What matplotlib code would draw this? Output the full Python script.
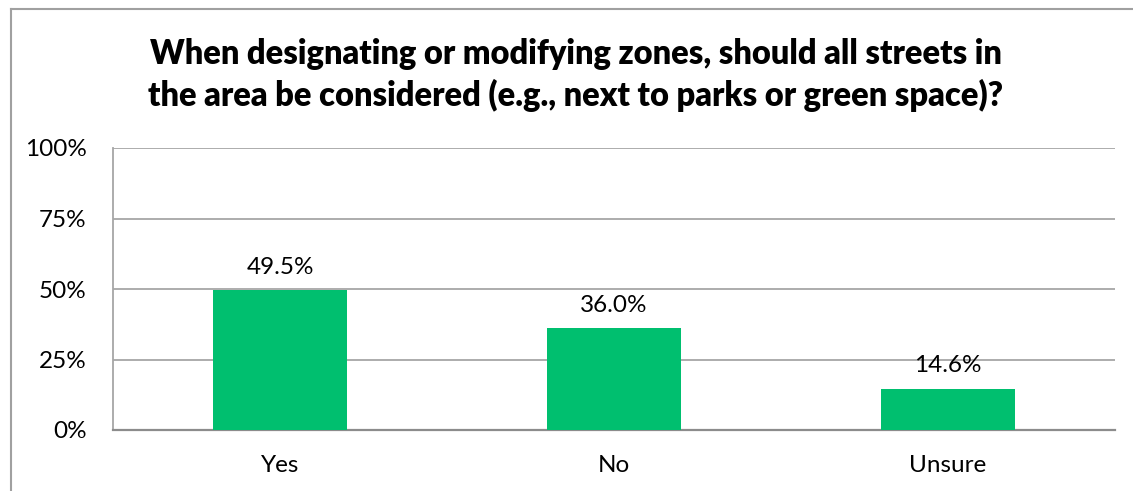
import matplotlib
matplotlib.use("Agg")
import matplotlib.pyplot as plt
from matplotlib.lines import Line2D

# --- data
categories = ["Yes", "No", "Unsure"]
values = [49.5, 36.0, 14.6]
yticks = [0, 25, 50, 75, 100]
ytick_labels = ["0%", "25%", "50%", "75%", "100%"]
title = ("When designating or modifying zones, should all streets in\n"
         "the area be considered (e.g., next to parks or green space)?")

plt.rcParams["font.family"] = ["Lato", "DejaVu Sans"]

fig = plt.figure(figsize=(11.33, 4.91), dpi=100)
ax = fig.add_axes([113 / 1133, 1 - 430 / 491, (1115 - 113) / 1133, (430 - 148) / 491])

grid_col = "#a6a6a6"
bar_col = "#00bf6f"

x = range(len(categories))
bars = ax.bar(x, values, width=0.4, color=bar_col, zorder=3)

ax.set_xlim(-0.5, len(categories) - 0.5)
ax.set_ylim(0, 100)
ax.set_yticks(yticks)
ax.set_yticklabels(ytick_labels)
ax.set_xticks(list(x))
ax.set_xticklabels(categories)
ax.tick_params(axis="both", length=0, labelsize=17.5, colors="black")
ax.tick_params(axis="y", pad=19)
ax.tick_params(axis="x", pad=18)

ax.yaxis.grid(True, color=grid_col, linewidth=1.3, zorder=0)
ax.set_axisbelow(True)
for s in ["top", "right"]:
    ax.spines[s].set_visible(False)
ax.spines["left"].set_color(grid_col)
ax.spines["left"].set_linewidth(1.3)
ax.spines["bottom"].set_color("#8c8c8c")
ax.spines["bottom"].set_linewidth(1.6)

for b, v in zip(bars, values):
    ax.annotate("%.1f%%" % v, (b.get_x() + b.get_width() / 2, v),
                xytext=(0, 9), textcoords="offset points",
                ha="center", va="bottom", fontsize=17.5)

fig.text(576 / 1133, 1 - 75 / 491, title, ha="center", va="center",
         fontsize=23.5, fontweight="heavy", linespacing=1.36)

# outer chart frame (top and left only visible)
fig.add_artist(Line2D([11 / 1133, 11 / 1133], [0, 1 - 9 / 491],
                      transform=fig.transFigure, color="#a0a0a0", lw=1.5))
fig.add_artist(Line2D([11 / 1133, 1], [1 - 9 / 491, 1 - 9 / 491],
                      transform=fig.transFigure, color="#a0a0a0", lw=1.5))

fig.savefig("out.png", dpi=100)
